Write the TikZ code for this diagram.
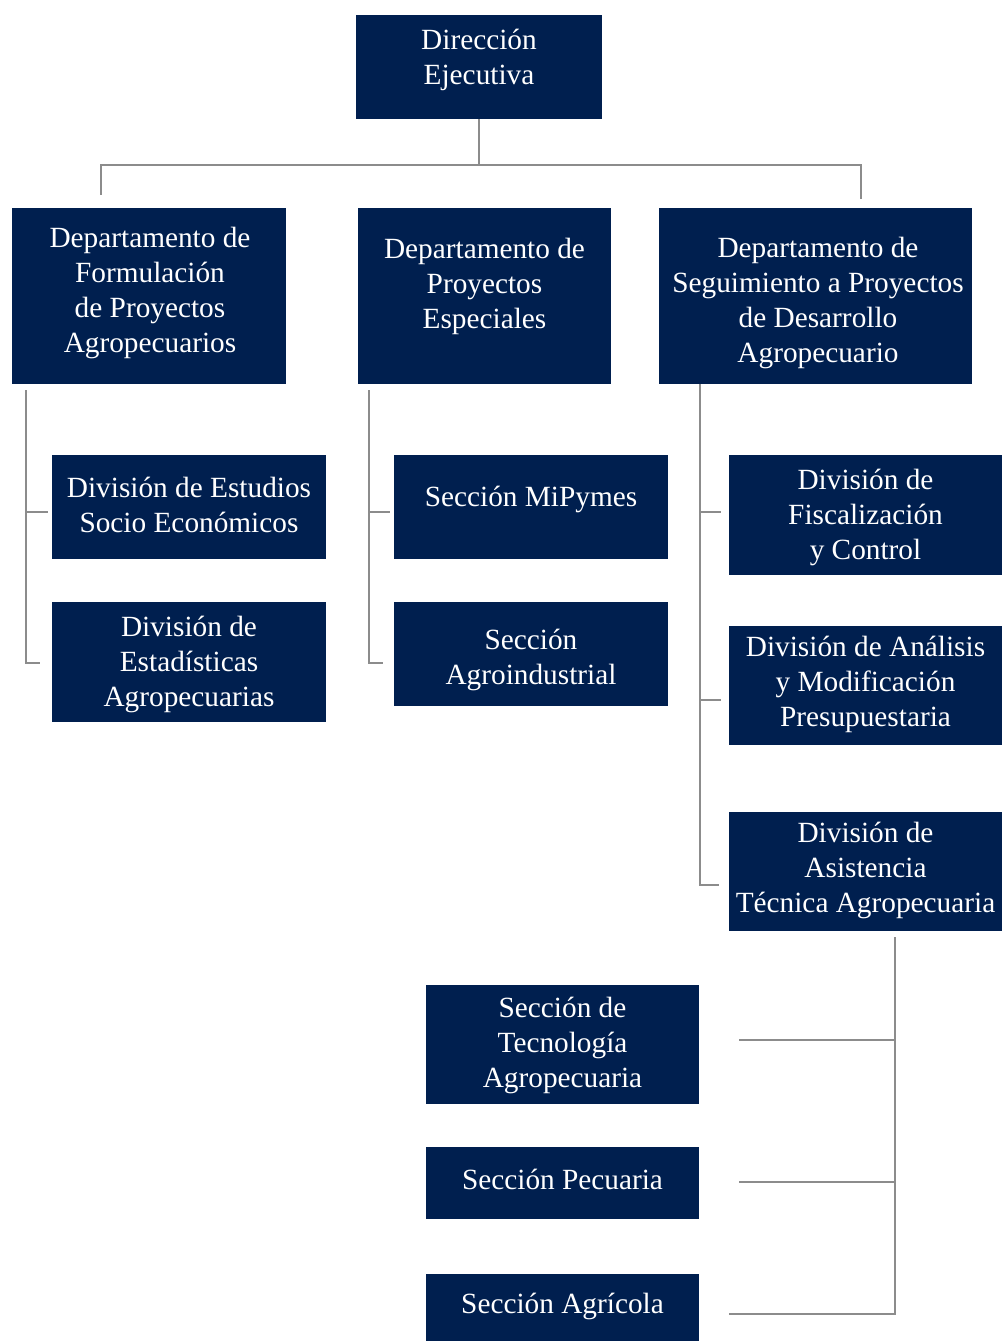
\documentclass[tikz,border=0pt]{standalone}
\usepackage{fontspec}
\setmainfont{Liberation Serif}
\usetikzlibrary{calc}
\definecolor{orgnavy}{RGB}{0,31,79}
\definecolor{orgline}{RGB}{140,140,140}

\begin{document}
\begin{tikzpicture}[x=1pt, y=-1pt,
  unitbox/.style={fill=orgnavy, draw=none, inner sep=0pt, minimum width=274},
  unittext/.style={text=white, align=center, inner sep=0pt,
    font=\fontsize{29.3}{35}\selectfont},
  link/.style={draw=orgline, line width=2.2pt}]

  % Page in pixel units, y grows downward:
  %  Dirección      : y  15 – 119
  %  Departamentos  : y 208 – 384
  %  Divisiones     : y 455 – 931
  %  Secciones DATA : y 985 – 1341
  \useasboundingbox (0,0) rectangle (1002,1341);

  % Top level
  \node[unitbox, minimum width=246, minimum height=104] (dir) at (479,67) {};
  \node[unittext] (dir-t) at (479,60) {Dirección\\Ejecutiva};

  % Departments
  \node[unitbox, minimum height=176] (form) at (149,296) {};
  \node[unittext] (form-t) at (150,293) {Departamento de\\Formulación\\de Proyectos\\Agropecuarios};
  \node[unitbox, minimum width=253, minimum height=176] (esp) at (484.5,296) {};
  \node[unittext] (esp-t) at (484.5,286) {Departamento de\\Proyectos\\Especiales};
  \node[unitbox, minimum width=313, minimum height=176] (seg) at (815.5,296) {};
  \node[unittext] (seg-t) at (818,303) {Departamento de\\Seguimiento a Proyectos\\de Desarrollo\\Agropecuario};

  % Left column
  \node[unitbox, minimum height=104] (estu) at (189,507) {};
  \node[unittext] (estu-t) at (189,505) {División de Estudios\\Socio Económicos};
  \node[unitbox, minimum height=120] (esta) at (189,662) {};
  \node[unittext] (esta-t) at (189,664) {División de\\Estadísticas\\Agropecuarias};

  % Middle column
  \node[unitbox, minimum height=104] (mipy) at (531,507) {};
  \node[unittext] (mipy-t) at (531,499) {Sección MiPymes};
  \node[unitbox, minimum height=104] (agro) at (531,654) {};
  \node[unittext] (agro-t) at (531,660) {Sección\\Agroindustrial};

  % Right column
  \node[unitbox, minimum width=273, minimum height=120] (fisc) at (865.5,515) {};
  \node[unittext] (fisc-t) at (865.5,517) {División de\\Fiscalización\\y Control};
  \node[unitbox, minimum width=273, minimum height=119] (anal) at (865.5,685.5) {};
  \node[unittext] (anal-t) at (865.5,684) {División de Análisis\\y Modificación\\Presupuestaria};
  \node[unitbox, minimum width=273, minimum height=119] (asis) at (865.5,871.5) {};
  \node[unittext] (asis-t) at (865.5,870) {División de\\Asistencia\\Técnica Agropecuaria};

  % Sections under Asistencia Técnica
  \node[unitbox, minimum width=273, minimum height=119] (tecn) at (562.5,1044.5) {};
  \node[unittext] (tecn-t) at (562.5,1045) {Sección de\\Tecnología\\Agropecuaria};
  \node[unitbox, minimum width=273, minimum height=72] (pecu) at (562.5,1183) {};
  \node[unittext] (pecu-t) at (562.5,1179) {Sección Pecuaria};
  \node[unitbox, minimum width=273, minimum height=67] (agri) at (562.5,1307.5) {};
  \node[unittext] (agri-t) at (562.5,1306) {Sección Agrícola};

  % Top connector
  \coordinate (hub) at ($(dir.south)+(0,46)$);
  \draw[link] (dir.south) -- (hub);
  \draw[link] ($(form.north west)+(89,-13)$) |- (hub) -| ($(seg.north west)+(202,-9)$);

  % Left bracket
  \coordinate (fl-top) at ($(form.south west)+(14,6)$);
  \coordinate (fl-a) at ($(estu.west)+(-4,5)$);
  \draw[link] (fl-top) |- ($(esta.west)+(-12,1)$);
  \draw[link] (fl-a -| fl-top) -- (fl-a);

  % Middle bracket
  \coordinate (ml-top) at ($(esp.south west)+(11,6)$);
  \coordinate (ml-a) at ($(mipy.west)+(-4,5)$);
  \draw[link] (ml-top) |- ($(agro.west)+(-11,9)$);
  \draw[link] (ml-a -| ml-top) -- (ml-a);

  % Right bracket
  \coordinate (rl-top) at ($(seg.south west)+(41,0)$);
  \coordinate (rl-a) at ($(fisc.west)+(-8,-3)$);
  \coordinate (rl-b) at ($(anal.west)+(-8,14.5)$);
  \draw[link] (rl-top) |- ($(asis.west)+(-10,13.5)$);
  \draw[link] (rl-a -| rl-top) -- (rl-a);
  \draw[link] (rl-b -| rl-top) -- (rl-b);

  % Bracket under Asistencia Técnica
  \coordinate (bl-top) at ($(asis.south)+(29.5,6)$);
  \coordinate (bl-a) at ($(tecn.east)+(40,-4.5)$);
  \coordinate (bl-b) at ($(pecu.east)+(40,-1)$);
  \draw[link] (bl-top) |- ($(agri.east)+(30,6.5)$);
  \draw[link] (bl-a) -- (bl-a -| bl-top);
  \draw[link] (bl-b) -- (bl-b -| bl-top);

\end{tikzpicture}
\end{document}
